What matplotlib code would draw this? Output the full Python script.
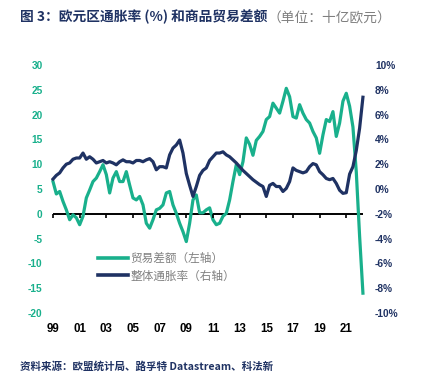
import numpy as np
import matplotlib
matplotlib.use('Agg')
from matplotlib import pyplot as plt

plt.rcParams['font.family'] = ['Noto Sans CJK SC', 'DejaVu Sans']

# quarterly points, 1999Q1 .. 2022Q2
trade_balance = [  # 十亿欧元, left axis
    6.5, 4.0, 4.5, 2.5,
    0.8, -1.2, -0.2, -0.8,
    -2.2, -0.5, 3.2, 4.8,
    6.5, 7.2, 8.5, 9.9,
    7.9, 4.2, 7.2, 8.5,
    6.5, 6.5, 8.5, 5.8,
    3.2, 2.8, 3.5, 1.8,
    -1.9, -2.9, -1.2, 0.8,
    1.1, 1.8, 4.2, 4.5,
    1.8, 0.1, -1.9, -3.6,
    -5.6, -1.9, 2.8, 3.8,
    0.2, 0.2, 0.8, 1.2,
    -1.2, -2.2, -1.9, -0.5,
    0.1, 2.8, 6.5, 9.9,
    7.9, 10.5, 15.3, 14.0,
    11.8, 14.8, 15.6, 16.6,
    19.0, 19.6, 22.3, 21.3,
    20.3, 22.7, 25.3, 23.6,
    19.6, 19.3, 22.0, 20.3,
    19.0, 18.3, 16.6, 15.3,
    12.2, 15.9, 19.0, 18.6,
    20.6, 15.6, 18.3, 22.7,
    24.3, 21.7, 17.5, 8.5,
    -4.5, -16.0,
]
inflation = [  # %, right axis
    0.8, 1.1, 1.3, 1.7,
    2.0, 2.1, 2.4, 2.5,
    2.5, 2.9, 2.4, 2.6,
    2.4, 2.1, 2.2, 2.3,
    2.1, 2.2, 2.1, 1.95,
    2.2, 2.35, 2.2, 2.2,
    2.1, 2.3, 2.3, 2.2,
    2.35, 2.45, 2.2, 1.55,
    1.8, 1.8, 1.7, 2.75,
    3.3, 3.55, 3.95, 2.9,
    1.25, 0.3, -0.6, 0.2,
    1.1, 1.5, 1.7, 2.3,
    2.6, 2.9, 2.9, 3.0,
    2.75, 2.6, 2.35, 2.1,
    1.8, 1.5, 1.25, 1.0,
    0.75, 0.55, 0.35, 0.2,
    -0.6, 0.3, 0.45, 0.2,
    0.2, -0.2, 0.05, 0.6,
    1.7, 1.5, 1.4, 1.3,
    1.4, 1.8, 2.05, 1.95,
    1.4, 1.15, 0.85, 0.75,
    0.85, 0.45, -0.1, -0.35,
    -0.3, 1.2, 1.8, 3.1,
    4.9, 7.4,
]
t = 1999 + np.arange(len(trade_balance)) / 4

x_ticks = list(range(1999, 2022, 2))
x_labels = ['99', '01', '03', '05', '07', '09', '11', '13', '15', '17', '19', '21']
left_ticks = list(range(-20, 31, 5))
right_ticks = list(range(-10, 11, 2))

teal = '#19b08c'
navy = '#1f3263'
num_font = ['Liberation Sans Narrow', 'Liberation Sans', 'DejaVu Sans']

fig = plt.figure(figsize=(4.3, 3.83), dpi=100)
ax = fig.add_axes([51 / 430, 1 - 313 / 383, 317 / 430, 248 / 383])
ax2 = ax.twinx()

ax.plot(t, trade_balance, color=teal, lw=2.3, label='贸易差额（左轴）')
ax2.plot(t, inflation, color=navy, lw=2.3, label='整体通胀率（右轴）')

ax.hlines(0, t[0], t[-1], color='black', lw=1.4, zorder=1)
ax.plot(x_ticks, [0] * len(x_ticks), ls='none', marker=3, ms=3, mew=1.2, color='black')

ax.set_xlim(1998.85, 2022.63)
ax.set_ylim(-20, 30)
ax2.set_ylim(-10, 10)

for a in (ax, ax2):
    for s in a.spines.values():
        s.set_visible(False)
    a.tick_params(length=0)

ax.set_xticks(x_ticks)
ax.set_xticklabels(x_labels, fontfamily=num_font, fontweight='bold', fontsize=8.3)
ax.tick_params(axis='x', pad=7)
ax.set_yticks(left_ticks)
ax.set_yticklabels([str(v) for v in left_ticks], fontfamily=num_font,
                   fontweight='bold', fontsize=7.3, color=teal)
ax.tick_params(axis='y', pad=6)
ax2.set_yticks(right_ticks)
ax2.set_yticklabels([f'{v}%' for v in right_ticks], fontfamily=num_font,
                    fontweight='bold', fontsize=7.3, color=navy)
ax2.tick_params(axis='y', pad=5)

h1, l1 = ax.get_legend_handles_labels()
h2, l2 = ax2.get_legend_handles_labels()
leg = ax2.legend(h1 + h2, l1 + l2, loc='upper left', bbox_to_anchor=(0.13, 0.27),
                 frameon=False, fontsize=8.4, handlelength=2.6, handletextpad=0.2,
                 labelspacing=0.4, borderpad=0)
for txt in leg.get_texts():
    txt.set_color('#808080')
for line in leg.get_lines():
    line.set_linewidth(2.6)

# title, bold part + grey unit part
title = fig.text(20 / 430, 1 - 17 / 383, '图 3：欧元区通胀率 (%) 和商品贸易差额',
                 fontsize=9.9, fontweight='bold', color=navy, va='center')
fig.canvas.draw()
bb = title.get_window_extent()
fig.text(bb.x1 / fig.bbox.width, 1 - 17 / 383, '（单位：十亿欧元）',
         fontsize=9.9, color='#7f7f7f', va='center')

fig.text(20 / 430, 1 - 366 / 383, '资料来源：欧盟统计局、路孚特 Datastream、科法新',
         fontsize=7.6, fontweight='bold', fontstyle='italic', color=navy, va='center')

fig.savefig('out.png', dpi=100)
